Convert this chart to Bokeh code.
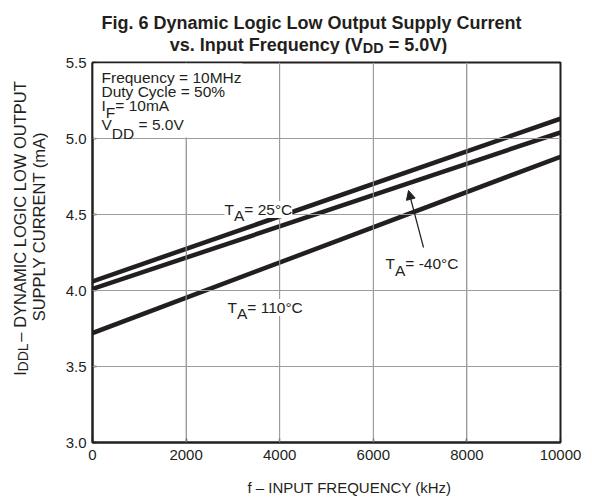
import math
from bokeh.plotting import figure
from bokeh.layouts import column, row
from bokeh.models import Label, Arrow, NormalHead, BoxAnnotation, FixedTicker, Range1d, NumeralTickFormatter, Span
from bokeh.embed import file_html
from bokeh.resources import INLINE

# ---------------- data ----------------
freq_khz = [0, 10000]
idd_25c = [4.06, 5.13]
idd_m40c = [4.01, 5.04]
idd_110c = [3.72, 4.88]
x_ticks = [0, 2000, 4000, 6000, 8000, 10000]
y_ticks = [3.0, 3.5, 4.0, 4.5, 5.0, 5.5]
x_range = (0, 10000)
y_range = (3.0, 5.5)

FONT = "Liberation Sans"
INK = "#231f20"
GRID = "#9d9d9d"

# overall page geometry (pixels)
TOTAL_W, TOTAL_H = 592, 498
TOP_H = 54          # title strip
LEFT_W = 48         # y-label strip
BOT_H = 28          # x-label strip
MAIN_W = TOTAL_W - LEFT_W
MAIN_H = TOTAL_H - TOP_H - BOT_H
# plot frame in page pixels
PL, PR, PT, PB = 92, 560, 62, 442

p = figure(width=MAIN_W, height=MAIN_H, x_range=Range1d(*x_range), y_range=Range1d(*y_range),
           output_backend="svg", toolbar_location=None,
           min_border_left=PL - LEFT_W, min_border_right=MAIN_W - (PR - LEFT_W),
           min_border_top=PT - TOP_H, min_border_bottom=TOP_H + MAIN_H - PB)
p.title.text = ""
p.background_fill_color = "white"
p.border_fill_color = "white"
p.outline_line_color = INK
p.outline_line_width = 2

for ax in (p.xaxis[0], p.yaxis[0]):
    ax.axis_line_color = INK
    ax.axis_line_width = 2
    ax.major_tick_in = 4
    ax.major_tick_out = 0
    ax.minor_tick_in = 0
    ax.minor_tick_out = 0
    ax.major_tick_line_color = INK
    ax.major_tick_line_width = 1.3
    ax.major_label_text_font = FONT
    ax.major_label_text_font_size = "15px"
    ax.major_label_text_color = INK
p.xaxis.ticker = FixedTicker(ticks=x_ticks)
p.yaxis.ticker = FixedTicker(ticks=y_ticks)
p.yaxis.formatter = NumeralTickFormatter(format="0.0")
p.xaxis.major_label_standoff = 7
p.yaxis.major_label_standoff = 6
p.grid.grid_line_color = GRID
p.grid.grid_line_width = 1

# ---------------- curves ----------------
for ys in (idd_25c, idd_m40c, idd_110c):
    p.line(freq_khz, ys, line_color=INK, line_width=4.5)

# ---------------- grid lines at the inner tick positions (annotation spans) ----------------
for gx in x_ticks[1:-1]:
    p.add_layout(Span(location=gx, dimension="height", line_color=GRID, line_width=1))
for gy in y_ticks[1:-1]:
    p.add_layout(Span(location=gy, dimension="width", line_color=GRID, line_width=1))


# ---------------- text helpers ----------------
def dx(px):
    return x_range[0] + (px - PL) / (PR - PL) * (x_range[1] - x_range[0])


def dy(py):
    return y_range[1] - (py - PT) / (PB - PT) * (y_range[1] - y_range[0])


def ident(v):
    return v


reg_w = dict(zip("abcdefghijklmnopqrstuvwxyz",
                 [556, 556, 500, 556, 556, 278, 556, 556, 222, 222, 500, 222, 833, 556, 556, 556, 556, 333, 500, 278, 556, 500, 722, 500, 500, 500]))
reg_w.update(zip("ABCDEFGHIJKLMNOPQRSTUVWXYZ",
                 [667, 667, 722, 722, 667, 611, 778, 722, 278, 500, 667, 556, 833, 722, 778, 667, 778, 722, 667, 611, 722, 667, 944, 667, 667, 611]))
reg_w.update(zip("0123456789", [556] * 10))
reg_w.update({" ": 278, ".": 278, ",": 278, "-": 333, "=": 584, "(": 333, ")": 333, "%": 889, "°": 400, "–": 556, ":": 278})
bold_w = dict(reg_w)
bold_w.update(zip("abcdefghijklmnopqrstuvwxyz",
                  [556, 611, 556, 611, 556, 333, 611, 611, 278, 278, 556, 278, 889, 611, 611, 611, 611, 389, 556, 333, 611, 556, 778, 556, 556, 500]))
bold_w.update(zip("ABCDEFGHIJKLMNOPQRSTUVWXYZ",
                  [722, 722, 722, 722, 667, 611, 778, 722, 278, 556, 722, 611, 833, 722, 778, 667, 778, 722, 667, 611, 722, 667, 944, 667, 667, 611]))


def tw(t, size, bold=False):
    tbl = bold_w if bold else reg_w
    return sum(tbl.get(c, 556) for c in t) * size / 1000.0


def rich(fig, fx, fy, px, py, segs, size, bold=False, angle=0.0, align="left", bg=None):
    """segs: (text, baseline shift in px (down), scale). px,py: page coords."""
    total = sum(tw(t, size * sc, bold) for t, _, sc in segs)
    adv = -total / 2 if align == "center" else 0.0
    for text, shift, sc in segs:
        fs = size * sc
        lead = len(text) - len(text.lstrip(" "))
        adv += tw(" " * lead, fs, bold)
        body = text.strip(" ")
        if angle == 0:
            x, y = px + adv, py + shift
        else:
            x, y = px + shift, py - adv
        fig.add_layout(Label(x=fx(x), y=fy(y), text=body, angle=angle,
                             text_font=FONT, text_font_size=f"{fs:.2f}px",
                             text_font_style="bold" if bold else "normal",
                             text_color=INK, text_align="left", text_baseline="alphabetic",
                             background_fill_color=bg))
        adv += tw(body, fs, bold)


def strip(w, h, x0, y0):
    f = figure(width=w, height=h, x_range=Range1d(x0, x0 + w), y_range=Range1d(y0 + h, y0),
               output_backend="svg", toolbar_location=None, min_border=0,
               x_axis_type=None, y_axis_type=None)
    f.outline_line_color = None
    f.title.text = ""
    f.background_fill_color = "white"
    f.border_fill_color = "white"
    return f


# ---------------- title strip ----------------
top = strip(TOTAL_W, TOP_H, 0, 0)
rich(top, ident, ident, 311, 22, [("Fig. 6 Dynamic Logic Low Output Supply Current", 0, 1)], 18, bold=True, align="center")
rich(top, ident, ident, 308, 44, [("vs. Input Frequency (V", 0, 1), ("DD", 3, 0.8), (" = 5.0V)", 0, 1)], 18, bold=True, align="center")

# ---------------- y-label strip ----------------
left = strip(LEFT_W, MAIN_H, 0, TOP_H)
rich(left, ident, ident, 19, 248, [("I", 0, 1), ("DDL", 3, 0.85), (" – DYNAMIC LOGIC LOW OUTPUT", 0, 1)], 16.5, angle=math.pi / 2, align="center")
rich(left, ident, ident, 38, 242, [("SUPPLY CURRENT (mA)", 0, 1)], 16.5, angle=math.pi / 2, align="center")

# ---------------- x-label strip ----------------
bottom = strip(TOTAL_W, BOT_H, 0, TOP_H + MAIN_H)
rich(bottom, ident, ident, 349, 487, [("f – INPUT FREQUENCY (kHz)", 0, 1)], 15, align="center")

# ---------------- conditions box ----------------
p.add_layout(BoxAnnotation(left=dx(PL + 1), right=dx(242), bottom=dy(137), top=dy(PT + 1),
                           fill_color="white", fill_alpha=1.0, line_alpha=0))
NS = 15.5
rich(p, dx, dy, 101, 77, [("Frequency = 10MHz", 0, 1)], NS)
rich(p, dx, dy, 101, 91, [("Duty Cycle = 50%", 0, 1)], NS)
rich(p, dx, dy, 101, 105, [("I", 0, 1), ("F", 7, 1), ("= 10mA", 0, 1)], NS)
rich(p, dx, dy, 101, 124, [("V", 0, 1), ("DD", 9, 1), (" = 5.0V", 0, 1)], NS)

# ---------------- curve labels ----------------
rich(p, dx, dy, 224, 209, [("T", 0, 1), ("A", 6, 1), ("= 25°C", 0, 1)], NS, bg="white")
rich(p, dx, dy, 385, 263, [("T", 0, 1), ("A", 7, 1), ("= -40°C", 0, 1)], NS, bg="white")
rich(p, dx, dy, 227, 307, [("T", 0, 1), ("A", 6, 1), ("= 110°C", 0, 1)], NS, bg="white")

p.add_layout(Arrow(end=NormalHead(size=9, fill_color=INK, line_color=INK, line_width=1),
                   x_start=dx(423), y_start=dy(247), x_end=dx(408), y_end=dy(190),
                   line_color=INK, line_width=1.2))

layout = column(top, row(left, p, spacing=0), bottom, spacing=0)
open("out.html", "w").write(file_html(layout, INLINE))
